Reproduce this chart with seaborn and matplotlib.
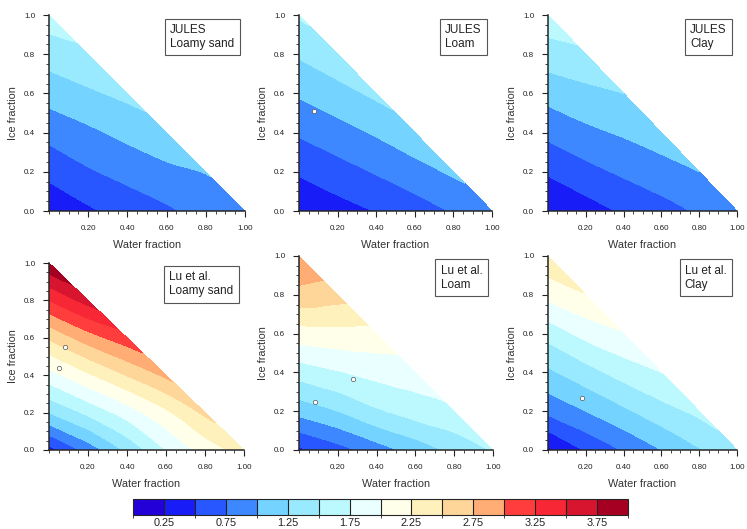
import numpy as np
import matplotlib
matplotlib.use("Agg")
import matplotlib.pyplot as plt
import matplotlib.tri as mtri
from matplotlib.colors import ListedColormap, BoundaryNorm
from matplotlib.ticker import MultipleLocator, FixedLocator
import seaborn as sns

sns.set_style("ticks")
plt.rcParams["font.family"] = ["Liberation Sans", "DejaVu Sans"]

# Grid of water / ice fractions of the pore space
fractions = [0.0, 0.2, 0.4, 0.6, 0.8, 1.0]

# Thermal conductivity (W m-1 K-1); row k is ice fraction fractions[k],
# entries run over water fraction 0.0, 0.2, ... up to 1 - ice
jules_loamy_sand = [
    [0.30, 0.46, 0.60, 0.71, 0.84, 0.97],
    [0.57, 0.72, 0.83, 0.94, 1.01],
    [0.83, 0.95, 1.07, 1.18],
    [1.10, 1.21, 1.31],
    [1.36, 1.45],
    [1.63],
]
jules_loam = [
    [0.28, 0.40, 0.51, 0.63, 0.77, 0.90],
    [0.53, 0.65, 0.77, 0.90, 1.04],
    [0.78, 0.90, 1.03, 1.18],
    [1.03, 1.16, 1.30],
    [1.28, 1.42],
    [1.53],
]
jules_clay = [
    [0.25, 0.39, 0.53, 0.65, 0.78, 0.90],
    [0.53, 0.67, 0.79, 0.90, 1.00],
    [0.81, 0.94, 1.03, 1.12],
    [1.09, 1.18, 1.25],
    [1.38, 1.45],
    [1.66],
]
lu_loamy_sand = [
    [0.40, 0.85, 1.30, 1.75, 2.10, 2.35],
    [1.25, 1.56, 1.87, 2.20, 2.55],
    [1.90, 2.21, 2.51, 2.80],
    [2.54, 2.88, 3.15],
    [3.25, 3.60],
    [3.95],
]
lu_loam = [
    [0.45, 0.65, 0.88, 1.10, 1.32, 1.52],
    [1.08, 1.25, 1.46, 1.60, 1.70],
    [1.61, 1.73, 1.83, 1.88],
    [2.14, 2.17, 2.17],
    [2.66, 2.60],
    [2.98],
]
lu_clay = [
    [0.20, 0.52, 0.77, 1.00, 1.23, 1.45],
    [0.80, 1.00, 1.20, 1.40, 1.56],
    [1.20, 1.40, 1.60, 1.75],
    [1.60, 1.83, 1.98],
    [2.07, 2.24],
    [2.45],
]

panel_fields = [jules_loamy_sand, jules_loam, jules_clay,
                lu_loamy_sand, lu_loam, lu_clay]
panel_titles = ["JULES\nLoamy sand", "JULES\nLoam", "JULES\nClay",
                "Lu et al.\nLoamy sand", "Lu et al.\nLoam", "Lu et al.\nClay"]

# Observation points (water fraction, ice fraction)
obs_water = [[], [0.08], [], [0.08, 0.05], [0.08, 0.28], [0.18]]
obs_ice = [[], [0.51], [], [0.55, 0.44], [0.25, 0.365], [0.27]]

levels = np.arange(0.0, 4.0001, 0.25)
cbar_labels = [0.25, 0.75, 1.25, 1.75, 2.25, 2.75, 3.25, 3.75]
fill_rgb = [(36, 0, 216), (24, 28, 247), (40, 87, 255), (61, 135, 255),
            (117, 211, 255), (153, 234, 255), (188, 249, 255), (234, 255, 255),
            (255, 255, 234), (255, 241, 188), (255, 214, 153), (255, 172, 117),
            (255, 61, 61), (247, 39, 53), (216, 21, 47), (165, 0, 33)]
palette = sns.color_palette([tuple(c / 255 for c in rgb) for rgb in fill_rgb])
cmap = ListedColormap(palette)
norm = BoundaryNorm(levels, cmap.N)


def build_triangulation(field):
    """Triangulate the lower-left triangle of the fraction grid."""
    xs, ys, zs, index = [], [], [], {}
    for k, row in enumerate(field):
        for j, val in enumerate(row):
            index[(j, k)] = len(xs)
            xs.append(fractions[j])
            ys.append(fractions[k])
            zs.append(val)
    tris = []
    n = len(fractions) - 1
    for k in range(n):
        for j in range(n - k):
            tris.append([index[(j, k)], index[(j + 1, k)], index[(j, k + 1)]])
            if j + k <= n - 2:
                tris.append([index[(j + 1, k)], index[(j + 1, k + 1)], index[(j, k + 1)]])
    return mtri.Triangulation(xs, ys, tris), np.array(zs)


W, H = 747, 529
fig = plt.figure(figsize=(W / 100, H / 100), dpi=100)

# axes boxes in pixels: left, right, top, bottom
boxes = [(49, 245, 15, 211), (299, 492, 15, 211), (548, 737, 15, 211),
         (49, 244, 263, 450), (299, 493, 256, 450), (548, 737, 256, 450)]

for p, (field, title) in enumerate(zip(panel_fields, panel_titles)):
    l, r, t, b = boxes[p]
    ax = fig.add_axes([l / W, 1 - b / H, (r - l) / W, (b - t) / H])
    tri, z = build_triangulation(field)
    # smooth contouring on a refined mesh
    refiner = mtri.UniformTriRefiner(tri)
    interp = mtri.CubicTriInterpolator(tri, z, kind="geom")
    fine_tri, fine_z = refiner.refine_field(z, triinterpolator=interp, subdiv=3)
    ax.tricontourf(fine_tri, fine_z, levels=levels, cmap=cmap, norm=norm,
                   extend="both")
    if obs_water[p]:
        sns.scatterplot(x=obs_water[p], y=obs_ice[p], ax=ax, color="white",
                        edgecolor="#555555", linewidth=0.5, s=10, zorder=5,
                        legend=False)
    ax.set_xlim(0, 1)
    ax.set_ylim(0, 1)
    sns.despine(ax=ax)
    for side in ("left", "bottom"):
        ax.spines[side].set_linewidth(1.1)
    ax.xaxis.set_major_locator(FixedLocator([0.2, 0.4, 0.6, 0.8, 1.0]))
    ax.set_xticklabels(["0.20", "0.40", "0.60", "0.80", "1.00"])
    ax.yaxis.set_major_locator(FixedLocator([0.0, 0.2, 0.4, 0.6, 0.8, 1.0]))
    ax.set_yticklabels(["0.0", "0.2", "0.4", "0.6", "0.8", "1.0"])
    ax.xaxis.set_minor_locator(MultipleLocator(0.05))
    ax.yaxis.set_minor_locator(MultipleLocator(0.05))
    ax.tick_params(which="major", direction="out", length=4, width=0.8,
                   labelsize=5.8, pad=6, colors="#222222")
    ax.tick_params(which="minor", direction="out", length=2, width=0.6,
                   colors="#222222")
    ax.set_xlabel("Water fraction", fontsize=7.8, labelpad=6, color="#333333")
    ax.set_ylabel("Ice fraction", fontsize=7.8, labelpad=4, color="#333333")
    ax.text(0.945, 0.955, title, transform=ax.transAxes, ha="right", va="top",
            fontsize=8.5, color="#222222", multialignment="left",
            bbox=dict(boxstyle="square,pad=0.45", fc="white", ec="#555555", lw=0.8))
    ax.set_facecolor("white")

cax = fig.add_axes([133 / W, 1 - 515 / H, 495 / W, 16 / H])
sm = plt.cm.ScalarMappable(cmap=cmap, norm=norm)
cb = fig.colorbar(sm, cax=cax, orientation="horizontal", boundaries=levels,
                  ticks=cbar_labels, drawedges=True)
cb.outline.set_linewidth(0.8)
cb.dividers.set_linewidth(0.8)
cb.dividers.set_color("#222222")
cb.ax.set_xticklabels([f"{v:.2f}" for v in cbar_labels])
cb.ax.tick_params(length=0, labelsize=7.8, pad=2, colors="#222222")

fig.savefig("out.png", dpi=100, facecolor="white")
